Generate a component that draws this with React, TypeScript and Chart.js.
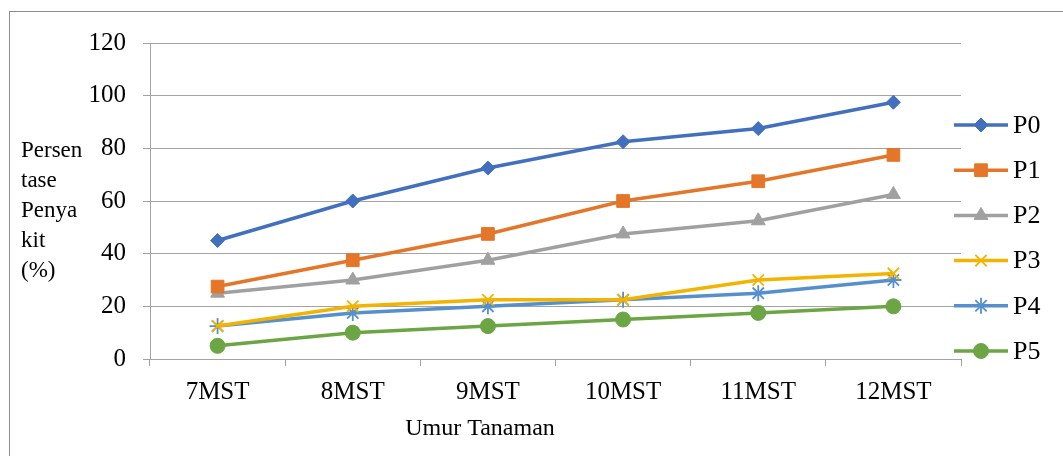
import React, { useEffect, useRef } from "react";
import { Chart, registerables } from "chart.js";
import { drawPoint } from "chart.js/helpers";

Chart.register(...registerables);

const FONT = '"Liberation Serif", "Times New Roman", serif';

const categories = ["7MST", "8MST", "9MST", "10MST", "11MST", "12MST"];
const seriesNames = ["P0", "P1", "P2", "P3", "P4", "P5"];
const p0 = [45, 60, 72.5, 82.5, 87.5, 97.5];
const p1 = [27.5, 37.5, 47.5, 60, 67.5, 77.5];
const p2 = [25, 30, 37.5, 47.5, 52.5, 62.5];
const p3 = [12.5, 20, 22.5, 22.5, 30, 32.5];
const p4 = [12.5, 17.5, 20, 22.5, 25, 30];
const p5 = [5, 10, 12.5, 15, 17.5, 20];
const seriesValues = [p0, p1, p2, p3, p4, p5];
const seriesColors = ["#4270BE", "#E47629", "#A0A0A0", "#F2B400", "#5590CC", "#6BA544"];
const seriesMarkers = ["rectRot", "rect", "triangle", "crossRot", "star", "circle"];
const markerRadius = [7, 9, 8, 8, 8, 7.5];
const yMin = 0;
const yMax = 120;
const yStep = 20;
const yTitleLines = ["Persen", "tase", "Penya", "kit", "(%)"];
const xTitle = "Umur Tanaman";

const GRID = "#A3A3A3";

const decorPlugin = {
  id: "decor",
  afterDraw(chart: any) {
    const ctx = chart.ctx as CanvasRenderingContext2D;
    ctx.save();
    // outer frame
    ctx.strokeStyle = "#8C8C8C";
    ctx.lineWidth = 1;
    ctx.strokeRect(9.5, 11.5, 3000, 3000);
    // y title (horizontal, multi-line)
    ctx.fillStyle = "#000";
    ctx.font = `23px ${FONT}`;
    ctx.textAlign = "left";
    ctx.textBaseline = "alphabetic";
    yTitleLines.forEach((t, i) => ctx.fillText(t, 21, 157 + i * 30));
    // x title
    ctx.font = `24px ${FONT}`;
    ctx.textAlign = "center";
    ctx.fillText(xTitle, 480, 435);
    // legend
    chart.data.datasets.forEach((ds: any, i: number) => {
      const y = 125 + i * 45.2;
      ctx.strokeStyle = ds.borderColor;
      ctx.lineWidth = ds.borderWidth;
      ctx.beginPath();
      ctx.moveTo(954, y);
      ctx.lineTo(1008, y);
      ctx.stroke();
      ctx.fillStyle = ds.pointBackgroundColor;
      ctx.strokeStyle = ds.pointBorderColor;
      ctx.lineWidth = ds.pointBorderWidth;
      drawPoint(
        ctx,
        {
          pointStyle: ds.pointStyle,
          rotation: 0,
          radius: ds.pointRadius,
          borderWidth: ds.pointBorderWidth,
        } as any,
        981,
        y
      );
      ctx.fillStyle = "#000";
      ctx.font = `26px ${FONT}`;
      ctx.textAlign = "left";
      ctx.textBaseline = "middle";
      ctx.fillText(ds.label, 1013, y + 1);
    });
    ctx.restore();
  },
};

export default function App() {
  const ref = useRef<HTMLCanvasElement | null>(null);

  useEffect(() => {
    if (!ref.current) return;
    const chart = new Chart(ref.current, {
      type: "line",
      data: {
        labels: categories,
        datasets: seriesNames.map((name, i) => ({
          label: name,
          data: seriesValues[i],
          borderColor: seriesColors[i],
          backgroundColor: seriesColors[i],
          pointBackgroundColor: seriesColors[i],
          pointBorderColor: seriesColors[i],
          pointBorderWidth: i === 3 || i === 4 ? 1.8 : 1,
          pointStyle: seriesMarkers[i] as any,
          pointRadius: markerRadius[i],
          pointHoverRadius: markerRadius[i],
          borderWidth: 3.5,
          tension: 0,
          fill: false,
        })),
      },
      options: {
        responsive: false,
        animation: false,
        events: [],
        layout: { padding: { left: 0, top: 43, right: 102, bottom: 0 } },
        plugins: {
          legend: { display: false },
          tooltip: { enabled: false },
          title: { display: false },
        },
        scales: {
          x: {
            type: "category",
            offset: true,
            afterFit: (s: any) => {
              s.height = 97;
            },
            grid: {
              offset: true,
              drawOnChartArea: false,
              drawTicks: true,
              tickLength: 7,
              color: GRID,
            },
            border: { color: GRID, width: 1 },
            ticks: {
              color: "#000",
              font: { family: FONT, size: 25 },
              padding: 11,
              maxRotation: 0,
              autoSkip: false,
            },
          },
          y: {
            min: yMin,
            max: yMax,
            afterFit: (s: any) => {
              s.width = 150;
            },
            grid: {
              color: GRID,
              drawTicks: true,
              tickLength: 7,
            },
            border: { color: GRID, width: 1 },
            ticks: {
              stepSize: yStep,
              color: "#000",
              font: { family: FONT, size: 25 },
              padding: 17,
            },
          },
        },
      },
      plugins: [decorPlugin],
    });
    return () => chart.destroy();
  }, []);

  return (
    <div
      style={{
        position: "fixed",
        left: 0,
        top: 0,
        width: 1063,
        height: 456,
        background: "#fff",
      }}
    >
      <canvas ref={ref} width={1063} height={456} style={{ display: "block" }} />
    </div>
  );
}
